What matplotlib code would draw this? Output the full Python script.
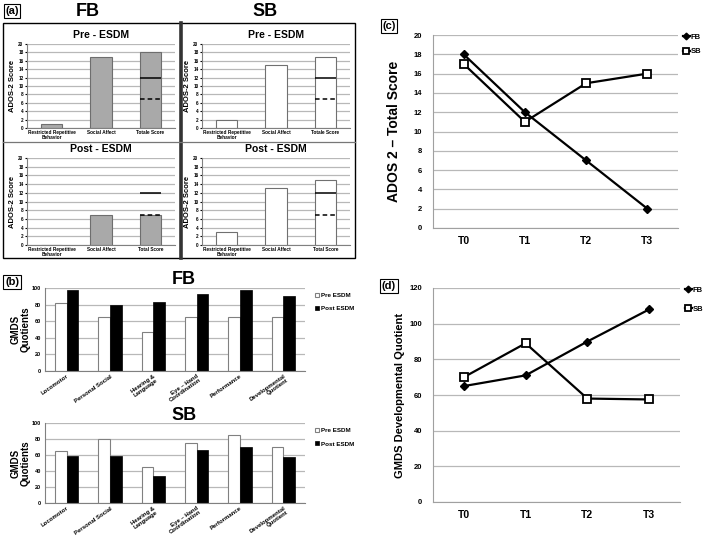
import matplotlib
matplotlib.use("Agg")
import matplotlib.pyplot as plt
from matplotlib.patches import Rectangle
from matplotlib.lines import Line2D
import numpy as np

plt.rcParams['font.family'] = ['Liberation Sans', 'DejaVu Sans']
plt.rcParams['font.weight'] = 'bold'

# ---- data ----
ados_cats_pre = ["Restricted Repetitive\nBehavior", "Social Affect", "Totale Score"]
ados_cats_post = ["Restricted Repetitive\nBehavior", "Social Affect", "Total Score"]
fb_pre = [1, 17, 18]
fb_post = [0, 7, 7]
sb_pre = [2, 15, 17]
sb_post = [3, 13, 15]
cutoff_solid = 12
cutoff_dashed = 7

gmds_cats = ["Locomotor", "Personal Social", "Hearing &\nLanguage",
             "Eye \u2013 Hand\nCoordination", "Performance", "Developmental\nQuotient"]
gmds_fb_pre = [82, 65, 47, 65, 65, 65]
gmds_fb_post = [97, 80, 83, 93, 97, 90]
gmds_sb_pre = [65, 80, 45, 75, 85, 70]
gmds_sb_post = [59, 59, 34, 66, 70, 58]

times = ["T0", "T1", "T2", "T3"]
ados_total_fb = [18, 12, 7, 2]
ados_total_sb = [17, 11, 15, 16]
dq_fb = [65, 71, 90, 108]
dq_sb = [70, 89, 58, 57.5]

W, H = 709, 538
fig = plt.figure(figsize=(W / 100, H / 100), dpi=100)


def rect(x0, y0, x1, y1):
    return [x0 / W, 1 - y1 / H, (x1 - x0) / W, (y1 - y0) / H]


def style_axes(ax, grid_color='#b8b8b8'):
    ax.spines['top'].set_visible(False)
    ax.spines['right'].set_visible(False)
    ax.spines['left'].set_color('#808080')
    ax.spines['bottom'].set_color('#808080')
    ax.grid(axis='y', color=grid_color, lw=0.9)
    ax.set_axisbelow(True)


def ados_panel(box, vals, cats, title, fc, ec):
    ax = fig.add_axes(rect(*box))
    x = np.arange(len(vals))
    w = 0.43
    ax.bar(x, vals, w, color=fc, edgecolor=ec, lw=0.8, zorder=2)
    ax.hlines(cutoff_solid, x[2] - w / 2, x[2] + w / 2, color='black', lw=1.1, zorder=3)
    ax.hlines(cutoff_dashed, x[2] - w / 2, x[2] + w / 2, color='black', lw=1.1,
              linestyles=(0, (3, 2)), zorder=3)
    ax.set_xlim(-0.5, 2.5)
    ax.set_ylim(0, 20)
    ax.set_yticks(range(0, 21, 2))
    ax.set_xticks(x)
    ax.set_xticklabels(cats, fontsize=3.4, linespacing=0.9)
    ax.tick_params(axis='y', labelsize=3.3, length=1.5, pad=1)
    ax.tick_params(axis='x', length=0, pad=1.5)
    style_axes(ax)
    ax.set_title(title, fontsize=7.5, fontweight='bold', pad=4)
    ax.set_ylabel("ADOS-2 Score", fontsize=5.5, fontweight='bold', labelpad=1.5)
    return ax


fb_fc, fb_ec = '#a9a9a9', '#6e6e6e'
sb_fc, sb_ec = 'white', '#707070'
ados_panel((27, 44, 175, 128), fb_pre, ados_cats_pre, "Pre - ESDM", fb_fc, fb_ec)
ados_panel((27, 158, 175, 245), fb_post, ados_cats_post, "Post - ESDM", fb_fc, fb_ec)
ados_panel((202, 44, 350, 128), sb_pre, ados_cats_pre, "Pre - ESDM", sb_fc, sb_ec)
ados_panel((202, 158, 350, 245), sb_post, ados_cats_post, "Post - ESDM", sb_fc, sb_ec)


def gmds_panel(box, pre, post, title):
    ax = fig.add_axes(rect(*box))
    x = np.arange(len(gmds_cats))
    w = 0.27
    ax.bar(x - w / 2, pre, w, color='white', edgecolor='#808080', lw=0.8, label='Pre ESDM', zorder=2)
    ax.bar(x + w / 2, post, w, color='black', edgecolor='black', lw=0.5, label='Post ESDM', zorder=2)
    ax.set_xlim(-0.5, len(x) - 0.5)
    ax.set_ylim(0, 100)
    ax.set_yticks(range(0, 101, 20))
    ax.set_xticks(x)
    ax.set_xticklabels(gmds_cats, rotation=35, ha='right', rotation_mode='anchor',
                       fontsize=4.3, linespacing=0.95)
    ax.tick_params(axis='y', labelsize=4, length=0, pad=3)
    ax.tick_params(axis='x', length=0, pad=2)
    style_axes(ax)
    ax.set_ylabel("GMDS\nQuotients", fontsize=7, fontweight='bold', labelpad=1, linespacing=1.0)
    ax.legend(loc='upper left', bbox_to_anchor=(1.02, 1.0), frameon=False, fontsize=4.5,
              handlelength=0.6, handleheight=0.6, handletextpad=0.3, labelspacing=1.3,
              borderaxespad=0.4)
    return ax


gmds_panel((45, 288, 305, 371), gmds_fb_pre, gmds_fb_post, "FB")
gmds_panel((45, 423, 305, 503), gmds_sb_pre, gmds_sb_post, "SB")


def line_panel(box, fb, sb, ylim, ystep, ylabel, lsp, lpad, lspace):
    ax = fig.add_axes(rect(*box))
    x = np.arange(len(times))
    ax.plot(x, fb, color='black', lw=1.6, marker='D', ms=4.0, mfc='black', mec='black', label='FB')
    ax.plot(x, sb, color='black', lw=1.6, marker='s', ms=5.5, mfc='white', mec='black', mew=1.3, label='SB')
    ax.set_xlim(-0.5, len(x) - 0.5)
    ax.set_ylim(*ylim)
    ax.set_yticks(np.arange(ylim[0], ylim[1] + 1, ystep))
    ax.set_xticks(x)
    ax.set_xticklabels(times, fontsize=7.5)
    ax.tick_params(axis='y', labelsize=5.5, length=0, pad=8)
    ax.tick_params(axis='x', length=0, pad=6)
    style_axes(ax)
    ax.spines['left'].set_color('#a0a0a0')
    ax.spines['bottom'].set_color('#a0a0a0')
    ax.set_ylabel(ylabel, fontsize=lsp, fontweight='bold', labelpad=lpad)
    ax.legend(loc='upper left', bbox_to_anchor=(1.0, 1.03), frameon=False, fontsize=5.5,
              handlelength=1.0, handletextpad=0.1, borderaxespad=0.2, markerscale=0.85,
              labelspacing=lspace)
    return ax


line_panel((433, 35, 678, 228), ados_total_fb, ados_total_sb, (0, 20), 2,
           "ADOS 2 \u2013 Total Score", 10, 9, 0.9)
line_panel((433, 288, 680, 502), dq_fb, dq_sb, (0, 120), 20,
           "GMDS Developmental Quotient", 8, 3, 1.6)

# ---- frames, titles and panel tags ----
ov = fig.add_axes([0, 0, 1, 1])
ov.set_xlim(0, W)
ov.set_ylim(H, 0)
ov.axis('off')
ov.add_patch(Rectangle((3, 23), 352, 235, fill=False, edgecolor='black', lw=1.0))
ov.add_line(Line2D([181, 181], [23, 258], color='#333333', lw=2.6))
ov.add_line(Line2D([3, 355], [142, 142], color='#777777', lw=0.9))

tag_box = dict(boxstyle='square,pad=0.15', facecolor='white', edgecolor='black', lw=0.8)
for tx, ty, t in [(12, 11, "(a)"), (12, 282, "(b)"), (389, 26, "(c)"), (389, 286, "(d)")]:
    ov.text(tx, ty, t, fontsize=8, fontweight='bold', ha='center', va='center', bbox=tag_box)

ov.text(88, 12, "FB", fontsize=13, fontweight='bold', ha='center', va='center')
ov.text(265, 12, "SB", fontsize=13, fontweight='bold', ha='center', va='center')
ov.text(184, 280, "FB", fontsize=13, fontweight='bold', ha='center', va='center')
ov.text(184, 416, "SB", fontsize=13, fontweight='bold', ha='center', va='center')

fig.savefig("out.png", dpi=100)
